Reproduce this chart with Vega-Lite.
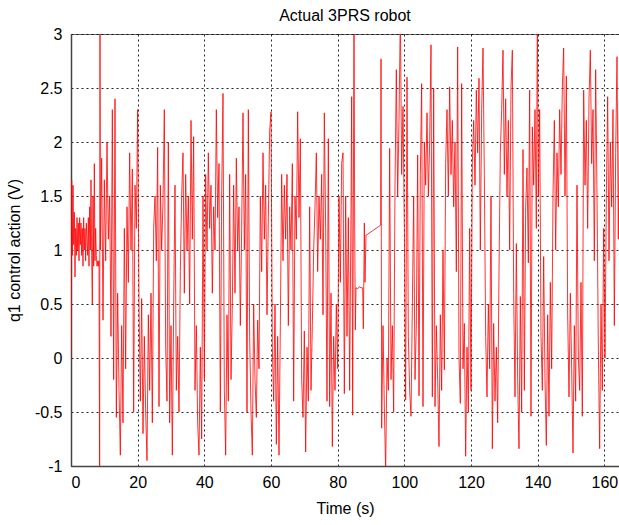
{
"$schema":"https://vega.github.io/schema/vega-lite/v6.json",
"width":548,"height":432,
"autosize":{"type":"none"},
"padding":{"left":71,"top":34,"right":0,"bottom":59},
"background":"white",
"title":{"text":"Actual 3PRS robot","fontSize":16,"font":"Liberation Sans","fontWeight":"normal","offset":2,"color":"black"},
"data":{"values":[
{"t":0.0,"v":0.0},{"t":0.1,"v":0.5},{"t":0.2,"v":1.65},{"t":0.4,"v":0.95},{"t":0.6,"v":1.6},{"t":0.8,"v":1.05},{"t":1.0,"v":1.35},{"t":1.2,"v":0.75},{"t":1.4,"v":1.2},{"t":1.6,"v":0.95},{"t":1.8,"v":1.3},{"t":2.0,"v":1.0},{"t":2.2,"v":1.25},{"t":2.4,"v":0.9},{"t":2.6,"v":1.3},{"t":2.8,"v":1.05},{"t":3.0,"v":1.25},{"t":3.2,"v":0.95},{"t":3.4,"v":1.2},{"t":3.6,"v":0.85},{"t":3.8,"v":1.3},{"t":4.0,"v":1.0},{"t":4.2,"v":1.2},{"t":4.4,"v":0.9},{"t":4.6,"v":1.25},{"t":4.8,"v":1.1},{"t":5.0,"v":0.95},{"t":5.2,"v":1.3},{"t":5.4,"v":0.85},{"t":5.6,"v":1.4},{"t":5.8,"v":1.0},{"t":6.0,"v":1.65},{"t":6.2,"v":0.95},{"t":6.4,"v":0.5},{"t":6.6,"v":1.5},{"t":6.8,"v":0.85},{"t":7.0,"v":1.8},{"t":7.2,"v":0.9},{"t":7.4,"v":1.2},{"t":7.6,"v":0.95},{"t":7.8,"v":0.85},{"t":8.0,"v":0.9},{"t":8.2,"v":0.85},{"t":8.4,"v":0.9},{"t":8.6,"v":-1.3},{"t":8.7,"v":3.3},
{"t":8.8,"v":1.0},{"t":9.2,"v":1.85},{"t":9.6,"v":0.35},{"t":10.0,"v":1.65},{"t":10.4,"v":0.9},{"t":10.8,"v":2.0},{"t":11.2,"v":1.1},{"t":11.6,"v":1.5},{"t":12.0,"v":0.2},{"t":12.4,"v":2.3},
{"t":12.8,"v":-0.2},{"t":13.2,"v":2.4},{"t":13.6,"v":-0.55},{"t":14.0,"v":0.6},{"t":14.4,"v":-0.3},{"t":14.8,"v":-0.9},{"t":15.2,"v":0.3},{"t":15.6,"v":-0.6},{"t":16.0,"v":1.2},{"t":16.4,"v":-0.1},
{"t":16.8,"v":1.4},{"t":17.2,"v":0.7},{"t":17.6,"v":1.9},{"t":18.0,"v":1.0},{"t":18.4,"v":1.75},{"t":18.8,"v":-0.5},{"t":19.2,"v":1.6},{"t":19.6,"v":1.2},{"t":20.0,"v":2.3},
{"t":20.4,"v":0.5},{"t":20.8,"v":-0.4},{"t":21.2,"v":0.55},{"t":21.6,"v":-0.7},{"t":22.0,"v":0.2},{"t":22.4,"v":-0.5},{"t":22.8,"v":-0.95},{"t":23.2,"v":0.4},{"t":23.6,"v":-0.3},{"t":24.0,"v":0.6},{"t":24.4,"v":-0.6},
{"t":24.8,"v":1.2},{"t":25.2,"v":1.5},{"t":25.6,"v":0.9},{"t":26.0,"v":1.95},{"t":26.4,"v":-0.45},{"t":26.8,"v":1.6},{"t":27.2,"v":1.0},{"t":27.6,"v":1.45},{"t":28.0,"v":2.3},
{"t":28.4,"v":0.1},{"t":28.8,"v":-0.4},{"t":29.2,"v":2.0},{"t":29.6,"v":-0.6},{"t":30.0,"v":0.3},{"t":30.4,"v":-0.9},{"t":30.8,"v":0.5},{"t":31.2,"v":1.6},{"t":31.6,"v":-0.3},{"t":32.0,"v":0.2},{"t":32.4,"v":-0.5},
{"t":32.8,"v":0.8},{"t":33.2,"v":1.5},{"t":33.6,"v":1.9},{"t":34.0,"v":0.6},{"t":34.4,"v":1.7},{"t":34.8,"v":1.0},{"t":35.2,"v":1.5},{"t":35.6,"v":0.5},{"t":36.0,"v":2.2},{"t":36.4,"v":1.1},{"t":36.8,"v":2.05},
{"t":37.2,"v":-0.3},{"t":37.6,"v":0.3},{"t":38.0,"v":-0.6},{"t":38.4,"v":-0.9},{"t":38.8,"v":0.1},{"t":39.2,"v":-0.75},{"t":39.6,"v":1.5},{"t":40.0,"v":-0.2},
{"t":40.4,"v":1.7},{"t":40.8,"v":1.0},{"t":41.2,"v":1.9},{"t":41.6,"v":1.2},{"t":42.0,"v":1.6},{"t":42.4,"v":0.6},{"t":42.8,"v":1.4},{"t":43.2,"v":1.0},{"t":43.6,"v":2.3},{"t":44.0,"v":1.3},{"t":44.4,"v":1.8},{"t":44.8,"v":-0.5},{"t":45.2,"v":1.5},{"t":45.6,"v":2.45},
{"t":46.0,"v":-0.3},{"t":46.4,"v":-0.9},{"t":46.8,"v":0.4},{"t":47.2,"v":-0.4},{"t":47.6,"v":1.7},{"t":48.0,"v":-0.2},{"t":48.4,"v":0.5},
{"t":48.8,"v":1.6},{"t":49.2,"v":0.6},{"t":49.6,"v":1.85},{"t":50.0,"v":1.0},{"t":50.4,"v":1.4},{"t":50.8,"v":0.3},{"t":51.2,"v":1.2},{"t":51.6,"v":2.27},{"t":52.0,"v":1.0},{"t":52.4,"v":1.7},{"t":52.8,"v":-0.5},{"t":53.2,"v":2.3},
{"t":53.6,"v":0.2},{"t":54.0,"v":-0.5},{"t":54.4,"v":-0.9},{"t":54.8,"v":0.5},{"t":55.2,"v":-0.2},{"t":55.6,"v":-0.55},{"t":56.0,"v":0.35},{"t":56.4,"v":-0.1},
{"t":56.8,"v":1.5},{"t":57.2,"v":0.8},{"t":57.6,"v":1.9},{"t":58.0,"v":1.1},{"t":58.4,"v":1.6},{"t":58.8,"v":0.4},{"t":59.2,"v":1.3},{"t":59.6,"v":2.1},{"t":60.0,"v":2.28},
{"t":60.4,"v":0.1},{"t":60.8,"v":-0.4},{"t":61.2,"v":0.5},{"t":61.6,"v":-0.8},{"t":62.0,"v":0.2},{"t":62.4,"v":-0.9},{"t":62.8,"v":0.3},{"t":63.2,"v":1.7},
{"t":63.6,"v":0.9},{"t":64.0,"v":1.6},{"t":64.4,"v":1.1},{"t":64.8,"v":1.7},{"t":65.2,"v":0.3},{"t":65.6,"v":1.4},{"t":66.0,"v":1.0},{"t":66.4,"v":1.8},{"t":66.8,"v":-0.4},{"t":67.2,"v":1.5},{"t":67.6,"v":1.1},{"t":68.0,"v":2.28},{"t":68.4,"v":1.3},{"t":68.8,"v":2.03},
{"t":69.2,"v":-0.2},{"t":69.6,"v":-0.55},{"t":70.0,"v":0.25},{"t":70.4,"v":-0.87},{"t":70.8,"v":0.1},{"t":71.2,"v":-0.4},{"t":71.6,"v":1.4},{"t":72.0,"v":-0.3},{"t":72.4,"v":0.3},
{"t":72.8,"v":1.0},{"t":73.2,"v":1.4},{"t":73.6,"v":1.9},{"t":74.0,"v":0.8},{"t":74.4,"v":1.5},{"t":74.8,"v":1.1},{"t":75.2,"v":1.7},{"t":75.6,"v":0.4},{"t":76.0,"v":2.27},{"t":76.4,"v":1.2},{"t":76.8,"v":-0.4},{"t":77.2,"v":2.03},
{"t":77.6,"v":-0.45},{"t":78.0,"v":0.6},{"t":78.4,"v":-0.82},{"t":78.8,"v":0.2},{"t":79.2,"v":-0.3},{"t":79.6,"v":0.5},{"t":80.0,"v":-0.1},
{"t":80.4,"v":1.5},{"t":80.8,"v":0.7},{"t":81.2,"v":1.8},{"t":81.6,"v":1.9},{"t":82.0,"v":-0.33},{"t":82.4,"v":1.5},{"t":82.8,"v":0.2},{"t":83.2,"v":1.3},{"t":83.6,"v":-0.3},{"t":84.0,"v":1.4},{"t":84.2,"v":2.42},{"t":84.5,"v":-0.53},{"t":84.9,"v":3.2},{"t":85.1,"v":1.25},{"t":85.3,"v":0.26},{"t":85.5,"v":0.65},{"t":86.0,"v":0.64},{"t":86.5,"v":0.66},{"t":87.0,"v":0.65},{"t":87.5,"v":0.65},{"t":87.7,"v":0.27},{"t":88.0,"v":1.25},{"t":88.2,"v":0.7},{"t":88.5,"v":1.14},{"t":88.7,"v":1.14},{"t":92.9,"v":1.23},{"t":93.0,"v":2.77},{"t":93.2,"v":-0.65},
{"t":93.6,"v":0.3},{"t":94.0,"v":-0.45},{"t":94.4,"v":-1.05},{"t":94.8,"v":0.0},{"t":95.2,"v":-0.3},{"t":95.6,"v":1.94},{"t":96.0,"v":-0.2},{"t":96.4,"v":0.3},{"t":96.8,"v":-0.5},
{"t":97.2,"v":1.6},{"t":97.6,"v":2.67},{"t":98.0,"v":1.5},{"t":98.4,"v":2.2},{"t":98.8,"v":3.2},{"t":99.2,"v":1.7},{"t":99.6,"v":2.33},{"t":100.0,"v":1.2},
{"t":100.4,"v":-0.39},{"t":100.8,"v":2.6},{"t":101.2,"v":0.2},{"t":101.6,"v":-0.3},{"t":102.0,"v":-0.54},{"t":102.4,"v":0.47},{"t":102.8,"v":1.5},{"t":103.2,"v":-0.2},{"t":103.6,"v":0.3},{"t":104.0,"v":1.88},{"t":104.4,"v":-0.35},
{"t":104.8,"v":1.7},{"t":105.2,"v":2.54},{"t":105.6,"v":-0.45},{"t":106.0,"v":2.0},{"t":106.4,"v":1.6},{"t":106.8,"v":2.27},{"t":107.2,"v":1.5},{"t":107.6,"v":2.0},{"t":108.0,"v":2.9},
{"t":108.4,"v":-0.36},{"t":108.8,"v":2.5},{"t":109.2,"v":-0.45},{"t":109.6,"v":0.3},{"t":110.0,"v":-0.2},{"t":110.4,"v":-0.82},{"t":110.8,"v":0.4},{"t":111.2,"v":-0.3},{"t":111.6,"v":1.0},{"t":112.0,"v":-0.11},
{"t":112.4,"v":1.8},{"t":112.8,"v":2.3},{"t":113.2,"v":1.5},{"t":113.6,"v":2.51},{"t":114.0,"v":1.7},{"t":114.4,"v":2.2},{"t":114.8,"v":1.4},{"t":115.2,"v":2.0},{"t":115.6,"v":0.8},{"t":116.0,"v":2.88},
{"t":116.4,"v":0.0},{"t":116.8,"v":-0.42},{"t":117.2,"v":2.54},{"t":117.6,"v":-0.1},{"t":118.0,"v":0.32},{"t":118.4,"v":-0.91},{"t":118.8,"v":0.1},{"t":119.2,"v":-0.5},{"t":119.6,"v":1.2},{"t":120.0,"v":-0.3},
{"t":120.4,"v":1.8},{"t":120.8,"v":2.2},{"t":121.2,"v":1.6},{"t":121.6,"v":2.48},{"t":122.0,"v":1.9},{"t":122.4,"v":2.59},{"t":122.8,"v":1.0},{"t":123.2,"v":2.3},{"t":123.6,"v":2.87},{"t":124.0,"v":1.7},
{"t":124.4,"v":0.2},{"t":124.8,"v":-0.36},{"t":125.2,"v":0.5},{"t":125.6,"v":-0.1},{"t":126.0,"v":1.5},{"t":126.4,"v":-0.84},{"t":126.8,"v":0.32},{"t":127.2,"v":-0.4},{"t":127.6,"v":0.1},{"t":128.0,"v":-0.6},{"t":128.4,"v":0.8},
{"t":128.8,"v":1.9},{"t":129.2,"v":2.3},{"t":129.6,"v":2.85},{"t":130.0,"v":1.7},{"t":130.4,"v":2.4},{"t":130.8,"v":1.5},{"t":131.2,"v":2.2},{"t":131.6,"v":1.0},{"t":132.0,"v":2.5},{"t":132.4,"v":2.85},
{"t":132.8,"v":0.6},{"t":133.2,"v":-0.36},{"t":133.6,"v":1.06},{"t":134.0,"v":-0.2},{"t":134.4,"v":-0.84},{"t":134.8,"v":0.57},{"t":135.2,"v":-0.5},{"t":135.6,"v":1.93},{"t":136.0,"v":-0.3},
{"t":136.4,"v":1.4},{"t":136.8,"v":1.76},{"t":137.2,"v":0.88},{"t":137.6,"v":2.48},{"t":138.0,"v":-0.54},{"t":138.4,"v":2.14},{"t":138.8,"v":1.6},{"t":139.2,"v":2.3},{"t":139.6,"v":1.2},{"t":139.9,"v":3.2},{"t":140.2,"v":1.5},{"t":140.6,"v":2.3},
{"t":141.0,"v":0.2},{"t":141.4,"v":-0.3},{"t":141.8,"v":0.94},{"t":142.2,"v":-0.2},{"t":142.6,"v":-0.81},{"t":143.0,"v":0.4},{"t":143.4,"v":-0.54},{"t":143.8,"v":0.7},{"t":144.2,"v":-0.1},{"t":144.6,"v":1.5},
{"t":145.0,"v":2.2},{"t":145.4,"v":1.0},{"t":145.8,"v":1.9},{"t":146.2,"v":1.4},{"t":146.6,"v":2.3},{"t":147.0,"v":1.7},{"t":147.4,"v":2.5},{"t":147.8,"v":2.87},{"t":148.2,"v":1.5},{"t":148.6,"v":2.61},
{"t":149.0,"v":0.4},{"t":149.4,"v":-0.36},{"t":149.8,"v":0.6},{"t":150.2,"v":-0.1},{"t":150.6,"v":-0.88},{"t":151.0,"v":0.3},{"t":151.4,"v":-0.4},{"t":151.8,"v":1.6},{"t":152.2,"v":0.0},{"t":152.6,"v":-0.3},{"t":153.0,"v":0.7},{"t":153.4,"v":-0.54},
{"t":153.8,"v":2.48},{"t":154.2,"v":1.6},{"t":154.6,"v":2.2},{"t":155.0,"v":1.2},{"t":155.4,"v":2.4},{"t":155.8,"v":2.85},{"t":156.2,"v":1.8},{"t":156.6,"v":2.3},{"t":157.0,"v":0.9},{"t":157.4,"v":2.67},{"t":157.8,"v":1.5},
{"t":158.2,"v":0.1},{"t":158.6,"v":-0.84},{"t":159.0,"v":0.5},{"t":159.4,"v":-0.3},{"t":159.8,"v":1.2},{"t":160.2,"v":0.0},
{"t":160.6,"v":1.5},{"t":161.0,"v":2.42},{"t":161.4,"v":0.9},{"t":161.8,"v":2.0},{"t":162.2,"v":1.4},{"t":162.6,"v":2.3},{"t":163.0,"v":0.3},{"t":163.4,"v":1.9},{"t":163.8,"v":2.79},{"t":164.2,"v":1.1},{"t":164.6,"v":2.6},{"t":165.0,"v":1.8}
]},
"mark":{"type":"line","color":"#ff0000","strokeWidth":0.8,"clip":true},
"encoding":{
"x":{"field":"t","type":"quantitative","scale":{"domain":[0,164.4],"nice":false,"zero":false},
"axis":{"title":"Time (s)","values":[0,20,40,60,80,100,120,140,160],"labelPadding":8,"titlePadding":10}},
"y":{"field":"v","type":"quantitative","scale":{"domain":[-1,3],"nice":false,"zero":false},
"axis":{"title":"q1 control action  (V)","values":[-1,-0.5,0,0.5,1,1.5,2,2.5,3],"labelExpr":"'' + datum.value","labelPadding":9,"titlePadding":12}}
},
"config":{
"view":{"stroke":"#666","strokeWidth":1},
"axis":{"labelFont":"Liberation Sans","labelFontSize":16,"labelColor":"black","titleFont":"Liberation Sans","titleFontSize":16,"titleFontWeight":"normal","titleColor":"black","grid":true,"gridColor":"black","gridDash":[2,3],"gridOpacity":0.85,"gridWidth":1,"ticks":false,"domainColor":"#444","domainWidth":1.5,"labelOverlap":false,"labelBound":false}
}
}
